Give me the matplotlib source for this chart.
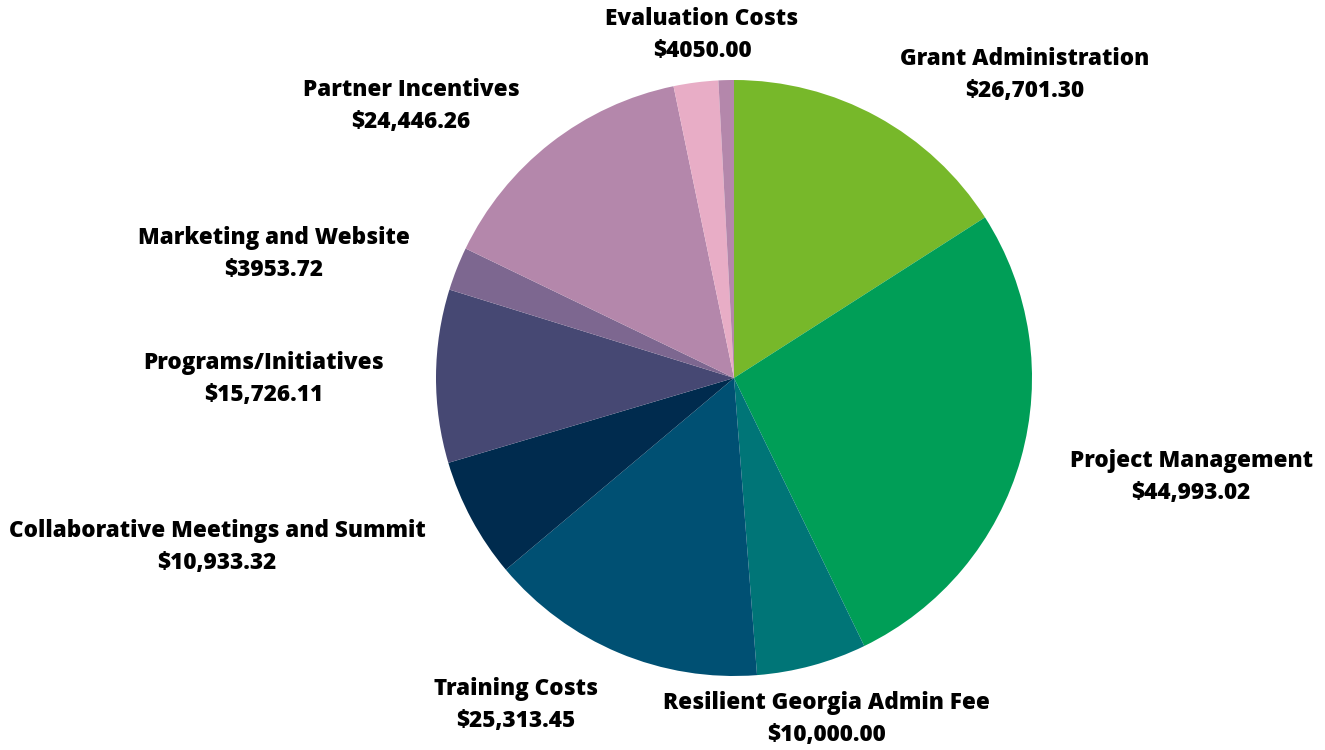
import matplotlib
matplotlib.use("Agg")
import matplotlib.pyplot as plt

categories = ["Grant Administration", "Project Management", "Resilient Georgia Admin Fee",
              "Training Costs", "Collaborative Meetings and Summit", "Programs/Initiatives",
              "Marketing and Website", "Partner Incentives", "Evaluation Costs", ""]
values = [26701.30, 44993.02, 10000.00, 25313.45, 10933.32, 15726.11,
          3953.72, 24446.26, 4050.00, 1400.00]
value_labels = ["$26,701.30", "$44,993.02", "$10,000.00", "$25,313.45", "$10,933.32",
                "$15,726.11", "$3953.72", "$24,446.26", "$4050.00", ""]
colors = ["#77B82A", "#009E57", "#007577", "#005073", "#002B4E", "#464873",
          "#7D6790", "#B487AB", "#E8ADC6", "#B487AB"]

# label centre positions in pixels (x, y from top) for the first line
label_pos = [(1025, 59), (1191, 461), (826, 703), (516, 689), (217, 531),
             (264, 363), (274, 238), (411, 90), (702, 19), None]

W, H = 1325, 750
fig = plt.figure(figsize=(W / 100, H / 100), dpi=100)
ax = fig.add_axes([0, 0, 1, 1])

ax.pie(values, colors=colors, startangle=90, counterclock=False,
       center=(734, H - 378), radius=298, frame=True,
       wedgeprops=dict(linewidth=0))
ax.set_xlim(0, W)
ax.set_ylim(0, H)
ax.set_aspect("equal")
ax.axis("off")

font = dict(family=["Open Sans", "DejaVu Sans"], fontweight="heavy", fontsize=16.2, color="#000000")
for name, vl, pos in zip(categories, value_labels, label_pos):
    if pos is None:
        continue
    x, y = pos
    ax.text(x, H - y, name, ha="center", va="center", **font)
    ax.text(x, H - y - 32, vl, ha="center", va="center", **font)

fig.savefig("out.png", dpi=100, facecolor="white")
